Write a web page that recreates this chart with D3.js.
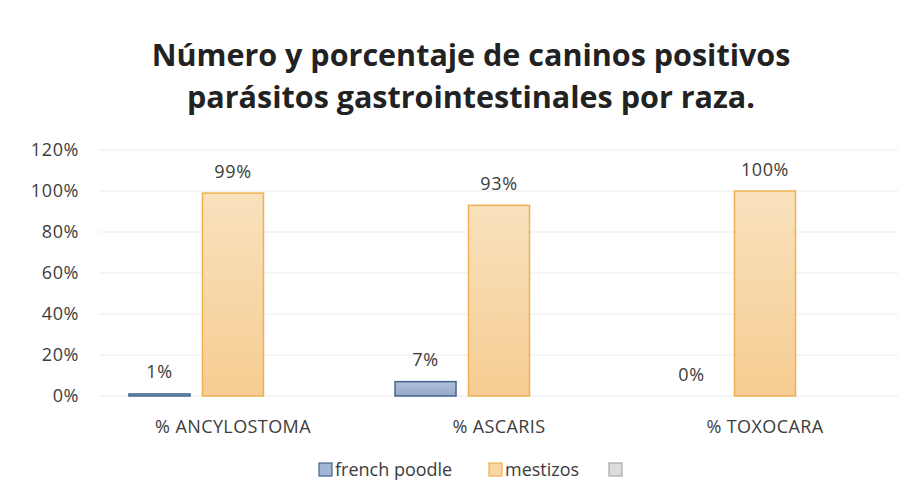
<!DOCTYPE html>
<html>
<head>
<meta charset="utf-8">
<script src="https://cdn.jsdelivr.net/npm/d3@7"></script>
<style>
  html, body { margin: 0; padding: 0; background: #ffffff; }
  svg { display: block; }
  text { font-family: "Open Sans", Lato, sans-serif; }
</style>
</head>
<body>
<svg id="chart" width="911" height="504"></svg>
<script>
const titleLines = ["Número y porcentaje de caninos positivos", "parásitos gastrointestinales por raza."];
const categories = ["% ANCYLOSTOMA", "% ASCARIS", "% TOXOCARA"];
const seriesNames = ["french poodle", "mestizos", ""];
const frenchPoodle = [1, 7, 0];
const mestizos = [99, 93, 100];
const unnamed = [0, 0, 0];
const yTicks = [0, 20, 40, 60, 80, 100, 120];

const seriesValues = [frenchPoodle, mestizos, unnamed];
const showLabels = [true, true, false];

const svg = d3.select("#chart");
const W = 911, H = 504;
const margin = { left: 100, right: 13, top: 150, bottom: 108 };
const FONT = "'Open Sans', Lato, sans-serif";
const TXT = "#3c3c3c";

svg.append("rect").attr("width", W).attr("height", H).attr("fill", "#ffffff");

// Title
const title = svg.append("text")
  .attr("text-anchor", "middle")
  .attr("font-size", 30.5).attr("font-weight", "bold").attr("fill", "#222222");
titleLines.forEach((t, i) => {
  title.append("tspan").attr("x", 471).attr("y", 66 + i * 42).text(t);
});

const x0 = d3.scaleBand().domain(categories).range([margin.left, W - margin.right]).paddingInner(0).paddingOuter(0);
const x1 = d3.scaleBand().domain(d3.range(seriesNames.length)).range([0, x0.bandwidth()]).paddingInner(0.17).paddingOuter(0.395);
const y = d3.scaleLinear().domain([0, 120]).range([H - margin.bottom, margin.top]);

// Gridlines
svg.append("g").selectAll("line").data(yTicks).join("line")
  .attr("x1", margin.left).attr("x2", W - margin.right)
  .attr("y1", d => y(d)).attr("y2", d => y(d))
  .attr("stroke", "#ebebeb").attr("stroke-width", 1);

// Y axis labels
const yAxis = d3.axisLeft(y).tickValues(yTicks).tickFormat(d => d + "%").tickSize(0).tickPadding(21);
const yg = svg.append("g").attr("transform", `translate(${margin.left},0)`).call(yAxis);
yg.select(".domain").remove();
yg.selectAll("text").attr("font-size", 18).attr("letter-spacing", 0.6).attr("fill", TXT).attr("font-family", FONT);

// Gradients
const defs = svg.append("defs");
const g0 = defs.append("linearGradient").attr("id", "gBlue").attr("x1", 0).attr("y1", 0).attr("x2", 0).attr("y2", 1);
g0.append("stop").attr("offset", "0%").attr("stop-color", "#b3c1d9");
g0.append("stop").attr("offset", "100%").attr("stop-color", "#93a7c8");
const g1 = defs.append("linearGradient").attr("id", "gOrange").attr("x1", 0).attr("y1", 0).attr("x2", 0).attr("y2", 1);
g1.append("stop").attr("offset", "0%").attr("stop-color", "#f9e1bd");
g1.append("stop").attr("offset", "100%").attr("stop-color", "#f6cd92");
const fills = ["url(#gBlue)", "url(#gOrange)", "#d9d9d9"];
const strokes = ["#43648f", "#efb150", "#b5b5b5"];

// Bars
const groups = svg.append("g").selectAll("g").data(categories).join("g")
  .attr("transform", d => `translate(${x0(d)},0)`);

groups.each(function(cat, ci) {
  const g = d3.select(this);
  seriesValues.forEach((vals, si) => {
    const v = vals[ci];
    if (v > 0) {
      g.append("rect")
        .attr("x", x1(si)).attr("width", x1.bandwidth())
        .attr("y", y(v)).attr("height", y(0) - y(v))
        .attr("fill", fills[si]).attr("stroke", strokes[si]).attr("stroke-width", 1.5);
    }
    if (showLabels[si]) {
      g.append("text")
        .attr("x", x1(si) + x1.bandwidth() / 2)
        .attr("y", y(v) - 15.5)
        .attr("text-anchor", "middle")
        .attr("font-size", 18).attr("letter-spacing", 0.6).attr("fill", TXT)
        .text(v + "%");
    }
  });
});

// X axis labels
const xAxis = d3.axisBottom(x0).tickSize(0).tickPadding(24);
const xg = svg.append("g").attr("transform", `translate(0,${y(0)})`).call(xAxis);
xg.select(".domain").remove();
xg.selectAll("text").attr("font-size", 18).attr("letter-spacing", 0.4).attr("fill", TXT).attr("font-family", FONT);

// Legend
const legendItems = [
  { name: seriesNames[0], fill: "#a3b6d5", stroke: "#43648f", x: 319 },
  { name: seriesNames[1], fill: "#f8d6a0", stroke: "#efb150", x: 489 },
  { name: seriesNames[2], fill: "#dcdcdc", stroke: "#a8a8a8", x: 609 }
];
const lg = svg.append("g").selectAll("g").data(legendItems).join("g")
  .attr("transform", d => `translate(${d.x},463)`);
lg.append("rect").attr("width", 13).attr("height", 13)
  .attr("fill", d => d.fill).attr("stroke", d => d.stroke).attr("stroke-width", 1.2);
lg.append("text").attr("x", 16).attr("y", 13).attr("font-size", 18).attr("fill", TXT).text(d => d.name);
</script>
</body>
</html>
